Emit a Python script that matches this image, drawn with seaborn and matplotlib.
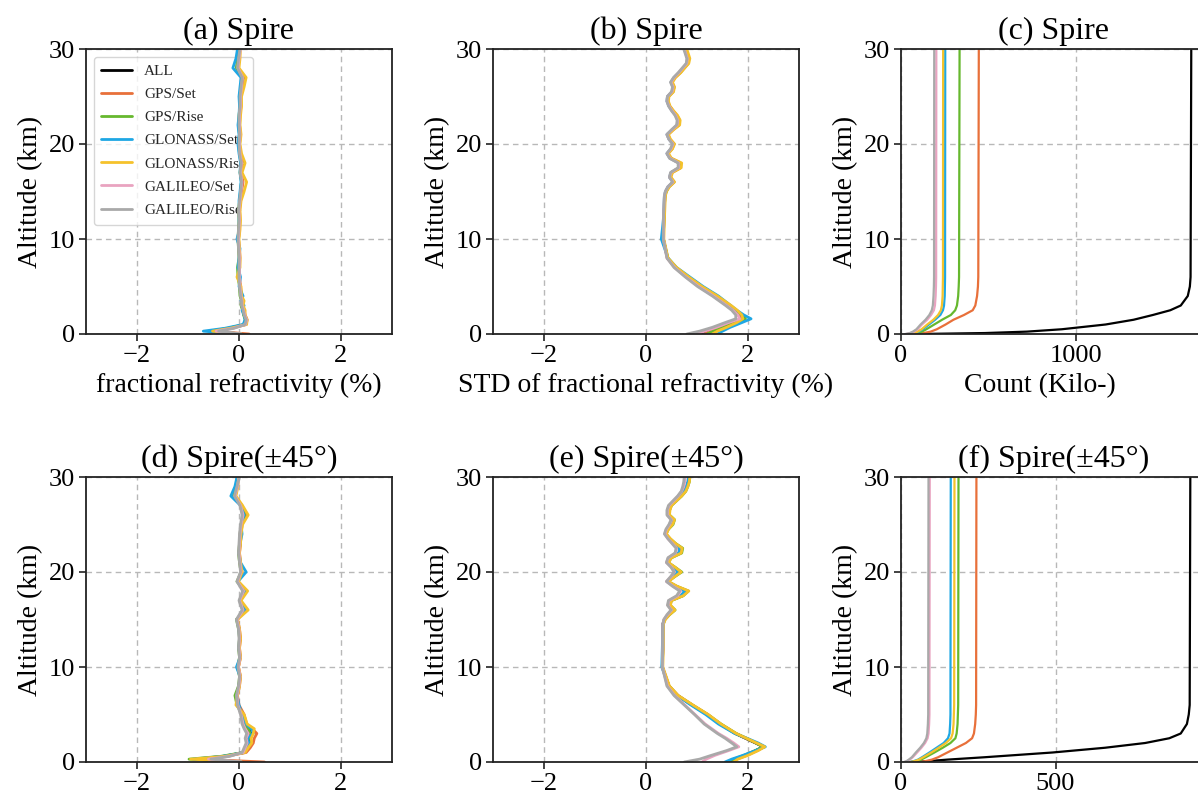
import matplotlib
matplotlib.use('Agg')
import matplotlib.pyplot as plt
import pandas as pd
import seaborn as sns

SERIES = ['ALL', 'GPS/Set', 'GPS/Rise', 'GLONASS/Set', 'GLONASS/Rise', 'GALILEO/Set', 'GALILEO/Rise']
COLORS = ['#000000', '#e8703a', '#66b82e', '#1ea7e4', '#f5c22b', '#e9a3c0', '#a9a9a9']

# altitude grids (km)
alt_frac = [0, 0.3, 0.6, 1, 1.5, 2, 2.5, 3, 3.5, 4, 5, 6, 7, 8, 9, 10, 11, 12, 13, 14,
            15, 16, 17, 18, 19, 20, 21, 22, 23, 24, 25, 26, 27, 28, 29, 30]
alt_std = [0, 0.3, 0.7, 1.2, 1.6, 2, 2.5, 3, 4, 5, 6, 7, 8, 10, 12, 14.5,
           15, 15.5, 16, 16.5, 17, 17.5, 18, 18.5, 19, 19.5, 20, 20.5, 21, 21.5, 22, 22.5,
           23, 23.5, 24, 24.5, 25, 25.5, 26, 26.5, 27, 27.5, 28, 28.5, 29, 29.5, 30]
alt_cnt = [0, 0.1, 0.25, 0.5, 1, 1.5, 2, 2.5, 3, 4, 5, 6, 30]

# (a) fractional refractivity, Spire
a_all = [0.05, -0.55, -0.20, 0.12, 0.14, 0.10, 0.08, 0.05, 0.06, 0.03, 0.02, 0.00, 0.00, 0.01, 0.00, -0.02, 0.00, 0.01, 0.00, 0.02,
         0.04, 0.06, 0.03, 0.05, 0.02, 0.00, 0.02, 0.00, 0.01, 0.03, 0.02, 0.05, 0.08, -0.04, -0.02, 0.00]
a_gps_set = [0.20, -0.50, -0.15, 0.14, 0.16, 0.12, 0.10, 0.06, 0.07, 0.05, 0.03, 0.01, 0.01, 0.02, 0.01, -0.01, 0.01, 0.02, 0.01, 0.03,
             0.05, 0.08, 0.04, 0.06, 0.03, 0.01, 0.03, 0.01, 0.02, 0.04, 0.03, 0.06, 0.09, -0.03, -0.01, 0.01]
a_gps_rise = [0.05, -0.58, -0.22, 0.10, 0.12, 0.09, 0.07, 0.04, 0.05, 0.02, 0.01, -0.02, -0.03, 0.00, -0.01, -0.02, -0.01, 0.00, -0.01, 0.01,
              0.03, 0.05, 0.02, 0.04, 0.01, -0.01, 0.01, -0.01, 0.00, 0.02, 0.01, 0.04, 0.07, -0.05, -0.03, -0.01]
a_glo_set = [0.00, -0.70, -0.28, 0.08, 0.12, 0.10, 0.06, 0.10, 0.04, 0.08, 0.00, 0.03, -0.02, 0.00, 0.02, -0.04, 0.01, 0.00, 0.01, 0.00,
             0.02, 0.04, 0.02, 0.03, 0.00, -0.02, 0.00, -0.02, 0.00, 0.01, 0.00, 0.02, 0.04, -0.12, -0.06, -0.03]
a_glo_rise = [0.05, -0.52, -0.18, 0.15, 0.16, 0.12, 0.12, 0.08, 0.10, 0.05, 0.04, -0.04, 0.02, 0.02, 0.01, 0.00, 0.02, 0.03, 0.02, 0.04,
              0.10, 0.15, 0.06, 0.12, 0.05, 0.02, 0.04, 0.02, 0.03, 0.05, 0.05, 0.10, 0.14, 0.00, 0.02, 0.03]
a_gal_set = [0.05, -0.45, -0.12, 0.13, 0.15, 0.11, 0.09, 0.06, 0.06, 0.04, 0.02, 0.01, 0.01, 0.01, 0.00, -0.01, 0.00, 0.01, 0.00, 0.02,
             0.04, 0.06, 0.03, 0.05, 0.02, 0.01, 0.02, 0.01, 0.01, 0.03, 0.03, 0.05, 0.07, -0.02, 0.00, 0.03]
a_gal_rise = [0.05, -0.40, -0.10, 0.12, 0.14, 0.10, 0.08, 0.05, 0.05, 0.03, 0.01, 0.00, 0.00, 0.00, -0.01, -0.02, -0.01, 0.00, -0.01, 0.01,
              0.03, 0.05, 0.02, 0.04, 0.01, 0.00, 0.01, 0.00, 0.00, 0.02, 0.02, 0.04, 0.06, -0.03, -0.01, 0.02]

# (b) STD of fractional refractivity, Spire
b_all = [1.10, 1.25, 1.45, 1.72, 1.92, 1.86, 1.76, 1.64, 1.38, 1.08, 0.82, 0.58, 0.42, 0.34, 0.35, 0.37,
         0.39, 0.44, 0.54, 0.47, 0.50, 0.66, 0.66, 0.48, 0.42, 0.50, 0.54, 0.46, 0.42, 0.52, 0.63, 0.64,
         0.60, 0.52, 0.46, 0.42, 0.43, 0.52, 0.54, 0.50, 0.56, 0.66, 0.74, 0.82, 0.83, 0.80, 0.77]
b_gps_set = [1.15, 1.28, 1.48, 1.70, 1.88, 1.84, 1.74, 1.62, 1.36, 1.07, 0.81, 0.58, 0.42, 0.34, 0.35, 0.37,
             0.39, 0.45, 0.55, 0.48, 0.51, 0.68, 0.68, 0.49, 0.43, 0.51, 0.55, 0.47, 0.43, 0.53, 0.65, 0.66,
             0.61, 0.53, 0.46, 0.43, 0.44, 0.53, 0.55, 0.51, 0.57, 0.67, 0.75, 0.83, 0.84, 0.81, 0.78]
b_gps_rise = [1.20, 1.32, 1.52, 1.76, 1.95, 1.88, 1.77, 1.65, 1.38, 1.09, 0.83, 0.59, 0.43, 0.34, 0.35, 0.37,
              0.40, 0.45, 0.55, 0.47, 0.50, 0.67, 0.67, 0.48, 0.42, 0.51, 0.55, 0.46, 0.42, 0.52, 0.64, 0.65,
              0.60, 0.52, 0.46, 0.42, 0.44, 0.53, 0.55, 0.50, 0.56, 0.67, 0.75, 0.83, 0.84, 0.81, 0.78]
b_glo_set = [1.40, 1.50, 1.65, 1.88, 2.06, 1.92, 1.78, 1.66, 1.42, 1.12, 0.86, 0.60, 0.43, 0.30, 0.34, 0.36,
             0.38, 0.43, 0.53, 0.46, 0.49, 0.65, 0.65, 0.47, 0.41, 0.49, 0.53, 0.45, 0.41, 0.51, 0.62, 0.63,
             0.59, 0.51, 0.45, 0.41, 0.42, 0.51, 0.53, 0.49, 0.55, 0.65, 0.73, 0.81, 0.82, 0.79, 0.76]
b_glo_rise = [1.30, 1.40, 1.58, 1.78, 1.90, 1.88, 1.79, 1.67, 1.40, 1.10, 0.84, 0.60, 0.43, 0.35, 0.36, 0.38,
              0.40, 0.46, 0.56, 0.49, 0.52, 0.69, 0.70, 0.50, 0.44, 0.52, 0.56, 0.48, 0.44, 0.54, 0.66, 0.67,
              0.62, 0.54, 0.47, 0.44, 0.45, 0.54, 0.56, 0.52, 0.58, 0.68, 0.76, 0.84, 0.86, 0.83, 0.80]
b_gal_set = [1.00, 1.15, 1.38, 1.62, 1.84, 1.80, 1.70, 1.58, 1.32, 1.03, 0.78, 0.56, 0.41, 0.34, 0.34, 0.36,
             0.38, 0.43, 0.53, 0.46, 0.49, 0.64, 0.64, 0.47, 0.41, 0.49, 0.53, 0.45, 0.41, 0.51, 0.61, 0.62,
             0.58, 0.51, 0.45, 0.41, 0.42, 0.51, 0.53, 0.49, 0.55, 0.64, 0.72, 0.80, 0.81, 0.78, 0.75]
b_gal_rise = [0.80, 1.05, 1.30, 1.55, 1.76, 1.76, 1.68, 1.56, 1.30, 1.01, 0.77, 0.55, 0.41, 0.34, 0.34, 0.36,
              0.38, 0.43, 0.52, 0.46, 0.48, 0.63, 0.63, 0.46, 0.41, 0.48, 0.52, 0.45, 0.41, 0.50, 0.60, 0.61,
              0.57, 0.50, 0.44, 0.41, 0.42, 0.50, 0.52, 0.48, 0.54, 0.63, 0.71, 0.79, 0.80, 0.77, 0.74]

# (c) count (kilo), Spire
c_all = [100, 480, 720, 920, 1170, 1330, 1440, 1540, 1600, 1640, 1652, 1656, 1660]
c_gps_set = [90, 130, 170, 205, 255, 300, 360, 410, 425, 435, 440, 442, 445]
c_gps_rise = [60, 95, 120, 145, 190, 235, 285, 310, 320, 327, 330, 332, 335]
c_glo_set = [50, 80, 100, 125, 160, 195, 225, 240, 246, 250, 251, 252, 253]
c_glo_rise = [45, 75, 95, 118, 150, 185, 212, 228, 234, 238, 239, 240, 241]
c_gal_set = [30, 55, 75, 95, 120, 150, 172, 188, 194, 198, 200, 201, 202]
c_gal_rise = [25, 50, 68, 88, 112, 140, 162, 176, 182, 186, 188, 189, 190]

# (d) fractional refractivity, Spire(+-45)
d_all = [0.05, -0.85, -0.30, 0.10, 0.15, 0.22, 0.20, 0.25, 0.20, 0.12, 0.08, -0.02, -0.05, 0.00, 0.02, -0.02, 0.02, 0.00, 0.02, 0.00,
         -0.04, 0.12, 0.02, 0.12, -0.03, 0.05, 0.02, 0.00, 0.02, 0.03, 0.05, 0.12, 0.05, -0.10, -0.05, -0.03]
d_gps_set = [0.50, -0.80, -0.25, 0.14, 0.22, 0.28, 0.30, 0.35, 0.26, 0.15, 0.10, 0.00, -0.03, 0.01, 0.03, -0.01, 0.03, 0.01, 0.03, 0.01,
             -0.03, 0.13, 0.03, 0.13, -0.02, 0.06, 0.03, 0.01, 0.03, 0.04, 0.06, 0.13, 0.06, -0.08, -0.03, -0.01]
d_gps_rise = [0.05, -0.98, -0.35, 0.08, 0.16, 0.24, 0.22, 0.22, 0.18, 0.10, 0.06, -0.04, -0.08, -0.01, 0.01, -0.03, 0.01, -0.01, 0.01, -0.01,
              -0.05, 0.11, 0.01, 0.11, -0.04, 0.04, 0.01, -0.01, 0.01, 0.02, 0.04, 0.11, 0.04, -0.11, -0.06, -0.03]
d_glo_set = [0.00, -0.90, -0.32, 0.10, 0.14, 0.20, 0.16, 0.28, 0.24, 0.14, 0.06, 0.00, -0.04, 0.00, 0.02, -0.05, 0.02, 0.00, 0.01, 0.00,
             -0.04, 0.14, 0.03, 0.14, -0.02, 0.14, 0.03, 0.00, 0.02, 0.06, 0.04, 0.10, 0.03, -0.16, -0.08, -0.04]
d_glo_rise = [0.05, -0.95, -0.28, 0.12, 0.18, 0.25, 0.24, 0.28, 0.30, 0.16, 0.10, -0.06, -0.03, 0.01, 0.03, -0.01, 0.03, 0.01, 0.03, 0.01,
              -0.03, 0.18, 0.04, 0.17, -0.01, 0.06, 0.03, 0.01, 0.03, 0.04, 0.07, 0.18, 0.07, -0.06, -0.02, -0.01]
d_gal_set = [0.05, -0.60, -0.20, 0.08, 0.12, 0.16, 0.14, 0.18, 0.12, 0.08, 0.04, -0.02, -0.04, 0.00, 0.02, -0.01, 0.02, 0.00, 0.01, 0.00,
             -0.04, 0.08, 0.01, 0.09, -0.03, 0.04, 0.02, 0.00, 0.01, 0.02, 0.04, 0.08, 0.03, -0.08, -0.03, 0.00]
d_gal_rise = [0.05, -0.55, -0.18, 0.06, 0.10, 0.14, 0.12, 0.15, 0.10, 0.06, 0.03, -0.03, -0.05, -0.01, 0.01, -0.02, 0.01, -0.01, 0.00, -0.01,
              -0.05, 0.06, 0.00, 0.07, -0.04, 0.03, 0.01, -0.01, 0.00, 0.01, 0.03, 0.06, 0.02, -0.09, -0.04, 0.01]

# (e) STD of fractional refractivity, Spire(+-45)
e_all = [1.65, 1.75, 1.95, 2.15, 2.30, 2.15, 1.95, 1.75, 1.45, 1.20, 0.90, 0.62, 0.45, 0.32, 0.33, 0.33,
         0.36, 0.44, 0.55, 0.46, 0.48, 0.70, 0.80, 0.58, 0.42, 0.54, 0.66, 0.55, 0.42, 0.48, 0.66, 0.68,
         0.56, 0.46, 0.38, 0.42, 0.50, 0.54, 0.44, 0.45, 0.48, 0.58, 0.68, 0.76, 0.80, 0.83, 0.84]
e_gps_set = [1.70, 1.78, 1.98, 2.18, 2.32, 2.16, 1.96, 1.76, 1.46, 1.21, 0.91, 0.63, 0.45, 0.32, 0.33, 0.33,
             0.37, 0.45, 0.56, 0.47, 0.49, 0.72, 0.82, 0.59, 0.43, 0.55, 0.68, 0.56, 0.43, 0.49, 0.68, 0.70,
             0.57, 0.47, 0.39, 0.43, 0.51, 0.55, 0.45, 0.46, 0.49, 0.59, 0.69, 0.77, 0.81, 0.84, 0.85]
e_gps_rise = [1.60, 1.72, 1.92, 2.14, 2.30, 2.16, 1.97, 1.77, 1.47, 1.21, 0.91, 0.62, 0.45, 0.32, 0.33, 0.34,
              0.37, 0.46, 0.57, 0.47, 0.50, 0.73, 0.83, 0.60, 0.43, 0.56, 0.70, 0.57, 0.43, 0.50, 0.70, 0.72,
              0.58, 0.47, 0.39, 0.44, 0.53, 0.56, 0.46, 0.46, 0.50, 0.60, 0.70, 0.78, 0.82, 0.85, 0.86]
e_glo_set = [1.55, 1.68, 1.90, 2.15, 2.34, 2.20, 1.98, 1.74, 1.42, 1.17, 0.88, 0.61, 0.44, 0.31, 0.32, 0.33,
             0.36, 0.44, 0.54, 0.45, 0.47, 0.68, 0.76, 0.57, 0.42, 0.53, 0.62, 0.54, 0.42, 0.47, 0.64, 0.66,
             0.55, 0.45, 0.38, 0.41, 0.49, 0.53, 0.44, 0.44, 0.47, 0.57, 0.67, 0.75, 0.79, 0.82, 0.83]
e_glo_rise = [1.72, 1.80, 2.00, 2.20, 2.33, 2.17, 1.97, 1.77, 1.47, 1.22, 0.92, 0.63, 0.46, 0.33, 0.34, 0.34,
              0.38, 0.46, 0.57, 0.48, 0.50, 0.73, 0.84, 0.61, 0.44, 0.56, 0.69, 0.57, 0.44, 0.50, 0.69, 0.71,
              0.58, 0.48, 0.40, 0.44, 0.52, 0.56, 0.46, 0.47, 0.50, 0.60, 0.70, 0.78, 0.82, 0.85, 0.86]
e_gal_set = [1.10, 1.18, 1.35, 1.62, 1.82, 1.72, 1.58, 1.42, 1.16, 0.96, 0.76, 0.56, 0.42, 0.32, 0.33, 0.33,
             0.35, 0.42, 0.50, 0.43, 0.45, 0.62, 0.68, 0.53, 0.40, 0.49, 0.56, 0.50, 0.40, 0.44, 0.58, 0.60,
             0.52, 0.43, 0.37, 0.40, 0.46, 0.50, 0.42, 0.42, 0.45, 0.54, 0.63, 0.70, 0.74, 0.76, 0.77]
e_gal_rise = [0.75, 1.05, 1.28, 1.58, 1.78, 1.68, 1.55, 1.40, 1.14, 0.95, 0.75, 0.55, 0.41, 0.32, 0.33, 0.33,
              0.35, 0.41, 0.49, 0.42, 0.44, 0.60, 0.66, 0.52, 0.40, 0.48, 0.55, 0.49, 0.40, 0.43, 0.57, 0.59,
              0.51, 0.43, 0.36, 0.39, 0.45, 0.49, 0.41, 0.41, 0.44, 0.53, 0.62, 0.69, 0.72, 0.74, 0.75]

# (f) count (kilo), Spire(+-45)
f_all = [30, 90, 150, 270, 490, 660, 790, 868, 905, 925, 931, 934, 936]
f_gps_set = [60, 80, 100, 120, 150, 180, 210, 230, 236, 240, 242, 243, 244]
f_gps_rise = [35, 50, 65, 80, 108, 135, 160, 176, 180, 183, 184, 185, 186]
f_glo_set = [28, 42, 55, 68, 92, 115, 138, 152, 157, 159, 160, 160, 161]
f_glo_rise = [30, 45, 58, 72, 98, 122, 145, 162, 167, 170, 171, 172, 173]
f_gal_set = [12, 20, 28, 38, 52, 66, 78, 86, 89, 91, 92, 92, 93]
f_gal_rise = [10, 18, 25, 35, 48, 62, 74, 82, 85, 87, 88, 88, 89]


def to_frame(alt, cols):
    rows = []
    for name, vals in zip(SERIES, cols):
        for a, v in zip(alt, vals):
            rows.append({'alt': a, 'val': v, 'series': name})
    return pd.DataFrame(rows)


def draw_panel(ax, data, title, xlim, xticks, lw=2.0, xlabel='', legend=False):
    sns.lineplot(data=data, x='val', y='alt', hue='series', hue_order=SERIES, palette=COLORS,
                 sort=False, estimator=None, linewidth=lw, ax=ax, legend='auto' if legend else False)
    ax.set(xlim=xlim, ylim=(0, 30), xticks=xticks, yticks=[0, 10, 20, 30])
    ax.set_xlabel(xlabel, fontsize=20, color='black')
    ax.set_ylabel('Altitude (km)', fontsize=20, color='black')
    ax.set_title(title, fontsize=23, pad=7, color='black')
    ax.grid(True, linestyle=(0, (4, 3)), color='#b8b8b8', linewidth=1.0)
    ax.tick_params(labelsize=19, length=5, width=1.2, direction='out', pad=3,
                   colors='#222222', labelcolor='black')
    for sp in ax.spines.values():
        sp.set_linewidth(1.3)
        sp.set_color('#222222')
    if legend:
        handles, labels = ax.get_legend_handles_labels()
        leg = ax.legend(handles, labels, loc='upper left', fontsize=11, frameon=True, framealpha=0.8,
                        edgecolor='#cccccc', handlelength=2.0, labelspacing=0.62, borderpad=0.5)
        leg.set_zorder(1)


sns.set_style("ticks")
plt.rcParams['font.family'] = ['Liberation Serif', 'DejaVu Serif']
plt.rcParams['mathtext.fontset'] = 'stix'

fig = plt.figure(figsize=(11.98, 7.99), dpi=100)
W, H = 1198, 799
lefts = [86, 493, 901]
tops = [49, 477]
aw, ah = 306, 285
axes = {}
for r, top in enumerate(tops):
    for c, left in enumerate(lefts):
        axes[(r, c)] = fig.add_axes([left / W, 1 - (top + ah) / H, aw / W, ah / H])

draw_panel(axes[(0, 0)], to_frame(alt_frac, [a_all, a_gps_set, a_gps_rise, a_glo_set, a_glo_rise, a_gal_set, a_gal_rise]),
           '(a) Spire', (-3, 3), [-2, 0, 2], xlabel='fractional refractivity (%)', legend=True)
draw_panel(axes[(0, 1)], to_frame(alt_std, [b_all, b_gps_set, b_gps_rise, b_glo_set, b_glo_rise, b_gal_set, b_gal_rise]),
           '(b) Spire', (-3, 3), [-2, 0, 2], xlabel='STD of fractional refractivity (%)')
draw_panel(axes[(0, 2)], to_frame(alt_cnt, [c_all, c_gps_set, c_gps_rise, c_glo_set, c_glo_rise, c_gal_set, c_gal_rise]),
           '(c) Spire', (0, 1750), [0, 1000], lw=1.6, xlabel='Count (Kilo-)')
axes[(0, 2)].xaxis.label.set_x(0.455)
draw_panel(axes[(1, 0)], to_frame(alt_frac, [d_all, d_gps_set, d_gps_rise, d_glo_set, d_glo_rise, d_gal_set, d_gal_rise]),
           '(d) Spire(±45°)', (-3, 3), [-2, 0, 2])
draw_panel(axes[(1, 1)], to_frame(alt_std, [e_all, e_gps_set, e_gps_rise, e_glo_set, e_glo_rise, e_gal_set, e_gal_rise]),
           '(e) Spire(±45°)', (-3, 3), [-2, 0, 2])
draw_panel(axes[(1, 2)], to_frame(alt_cnt, [f_all, f_gps_set, f_gps_rise, f_glo_set, f_glo_rise, f_gal_set, f_gal_rise]),
           '(f) Spire(±45°)', (0, 990), [0, 500], lw=1.6)

fig.savefig('out.png', dpi=100)
